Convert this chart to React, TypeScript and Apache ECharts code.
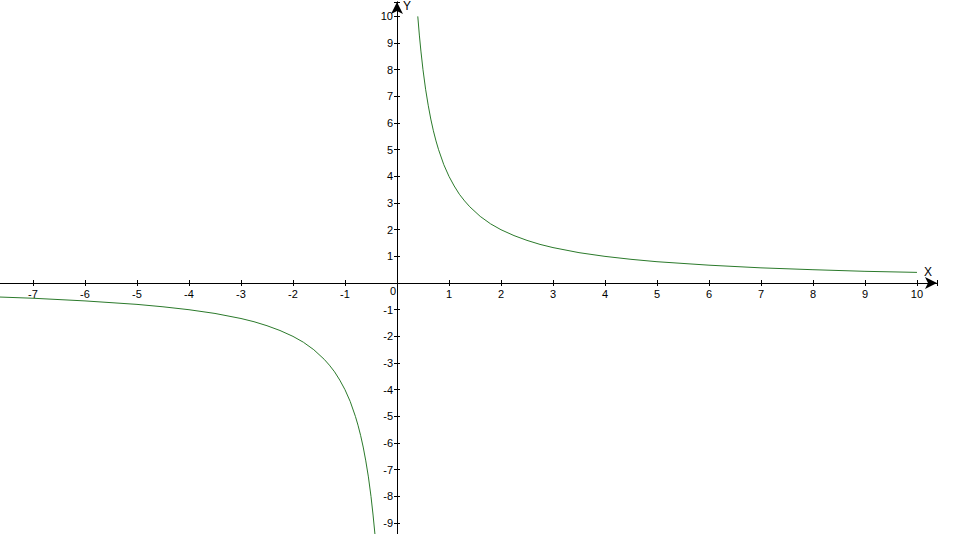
import React, { useEffect, useRef } from "react";
import * as echarts from "echarts";

// Points (right branch and left branch)
const rightX = [0.4, 0.43, 0.46, 0.5, 0.55, 0.6, 0.65, 0.7, 0.75, 0.8, 0.9, 1, 1.1, 1.2, 1.3, 1.4, 1.6, 1.8, 2, 2.25, 2.5, 2.75, 3, 3.5, 4, 4.5, 5, 6, 7, 8, 9, 10];
const rightY = [10, 9.3, 8.7, 8, 7.27, 6.67, 6.15, 5.71, 5.33, 5, 4.44, 4, 3.64, 3.33, 3.08, 2.86, 2.5, 2.22, 2, 1.78, 1.6, 1.45, 1.33, 1.14, 1, 0.89, 0.8, 0.67, 0.57, 0.5, 0.44, 0.4];
const leftX = [-7.7, -7, -6, -5, -4.5, -4, -3.5, -3, -2.75, -2.5, -2.25, -2, -1.8, -1.6, -1.4, -1.3, -1.2, -1.1, -1, -0.9, -0.8, -0.75, -0.7, -0.65, -0.6, -0.55, -0.5, -0.46, -0.42];
const leftY = [-0.52, -0.57, -0.67, -0.8, -0.89, -1, -1.14, -1.33, -1.45, -1.6, -1.78, -2, -2.22, -2.5, -2.86, -3.08, -3.33, -3.64, -4, -4.44, -5, -5.33, -5.71, -6.15, -6.67, -7.27, -8, -8.7, -9.5];

const X_MIN = -8;
const X_MAX = 10.385;
const Y_MIN = -10;
const Y_MAX = 10.54;

const LINE_COLOR = "#2b7a2b";
const FONT = "'Liberation Sans', Arial, sans-serif";

const fmtX = (v: number) => (Number.isInteger(v) && v !== 0 && v > X_MIN ? String(v) : "");
const fmtY = (v: number) => (Number.isInteger(v) && v !== 0 && v > Y_MIN ? String(v) : "");

// grid box (pixels); axes are shifted onto the zero lines with offsets
const G_LEFT = -19;
const G_RIGHT = 16;
const G_TOP = 2;
const G_BOTTOM = -15.7;
const ORIGIN_X = 397;
const ORIGIN_Y = 283;

export default function App() {
  const ref = useRef<HTMLDivElement>(null);
  useEffect(() => {
    if (!ref.current) return;
    const chart = echarts.init(ref.current, null, { renderer: "svg" });
    const H = 534;
    const xOffset = -((H - G_BOTTOM) - ORIGIN_Y); // move x axis from grid bottom up to y=0
    const yOffset = -(ORIGIN_X - G_LEFT); // move y axis from grid left right to x=0
    const axisLine = { show: true, onZero: false, lineStyle: { color: "#000", width: 1 } };
    const baseX = {
      type: "value" as const,
      min: X_MIN,
      max: X_MAX,
      interval: 1,
      splitLine: { show: false },
      position: "bottom",
      offset: xOffset,
    };
    const baseY = {
      type: "value" as const,
      min: Y_MIN,
      max: Y_MAX,
      interval: 1,
      splitLine: { show: false },
      position: "left",
      offset: yOffset,
    };
    const gridBox = { left: G_LEFT, right: G_RIGHT, top: G_TOP, bottom: G_BOTTOM, containLabel: false, outerBoundsMode: "none" };
    chart.setOption({
      animation: false,
      backgroundColor: "#fff",
      grid: [{ ...gridBox }, { ...gridBox }],
      xAxis: [
        {
          ...baseX,
          gridIndex: 0,
          axisLine: { ...axisLine, symbol: ["none", "arrow"], symbolSize: [9, 12] },
          axisTick: { show: true, inside: false, length: 3, lineStyle: { color: "#000" } },
          axisLabel: { formatter: fmtX, color: "#000", fontSize: 11, fontFamily: FONT, margin: 5 },
        },
        {
          ...baseX,
          gridIndex: 1,
          axisLine: { ...axisLine },
          axisTick: { show: true, inside: true, length: 3, lineStyle: { color: "#000" } },
          axisLabel: { show: false },
        },
      ],
      yAxis: [
        {
          ...baseY,
          gridIndex: 0,
          axisLine: { ...axisLine, symbol: ["none", "arrow"], symbolSize: [9, 12] },
          axisTick: { show: true, inside: false, length: 3, lineStyle: { color: "#000" } },
          axisLabel: { formatter: fmtY, color: "#000", fontSize: 11, fontFamily: FONT, margin: 4 },
        },
        {
          ...baseY,
          gridIndex: 1,
          axisLine: { ...axisLine },
          axisTick: { show: true, inside: true, length: 3, lineStyle: { color: "#000" } },
          axisLabel: { show: false },
        },
      ],
      graphic: [
        { type: "text", x: 396, y: 285, style: { text: "0", fill: "#000", font: `11px ${FONT}`, align: "right" } },
        { type: "text", x: 924, y: 266, style: { text: "X", fill: "#000", font: `12px ${FONT}` } },
        { type: "text", x: 403, y: 0, style: { text: "Y", fill: "#000", font: `12px ${FONT}` } },
      ],
      series: [
        {
          type: "line",
          xAxisIndex: 0,
          yAxisIndex: 0,
          data: rightX.map((x, i) => [x, rightY[i]]),
          showSymbol: false,
          smooth: false,
          lineStyle: { color: LINE_COLOR, width: 1 },
        },
        {
          type: "line",
          xAxisIndex: 0,
          yAxisIndex: 0,
          data: leftX.map((x, i) => [x, leftY[i]]),
          showSymbol: false,
          smooth: false,
          lineStyle: { color: LINE_COLOR, width: 1 },
        },
      ],
    });
    return () => chart.dispose();
  }, []);
  return (
    <div
      ref={ref}
      style={{ position: "fixed", left: 0, top: 0, width: 953, height: 534, background: "#fff" }}
    />
  );
}
